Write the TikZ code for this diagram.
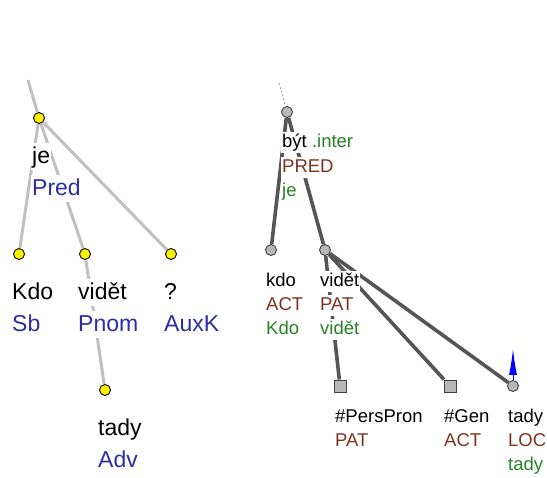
\documentclass[tikz,border=0pt]{standalone}
\usepackage{fontspec}
\setmainfont{Liberation Sans}
\usetikzlibrary{arrows.meta}
\definecolor{tblue}{RGB}{45,45,165}
\definecolor{tbrown}{RGB}{125,50,30}
\definecolor{tgreen}{RGB}{40,130,40}
\definecolor{ledgec}{RGB}{192,192,192}
\definecolor{redgec}{RGB}{85,85,85}
\begin{document}
\begin{tikzpicture}[x=1pt,y=-1pt,
 ynode/.style={circle,draw=black,fill=yellow,minimum size=11pt,inner sep=0pt,line width=0.9pt},
 gnode/.style={circle,draw=black!75,fill=black!28,minimum size=11pt,inner sep=0pt,line width=0.9pt},
 gsq/.style={rectangle,draw=black!75,fill=black!28,minimum size=12pt,inner sep=0pt,line width=0.9pt},
 lab/.style={anchor=base west,fill=white,inner xsep=1pt,inner ysep=0pt,text height=21pt,text depth=6pt,font=\fontsize{23}{23}\selectfont},
 rlab/.style={anchor=base west,fill=white,inner xsep=1pt,inner ysep=0pt,text height=16pt,text depth=5pt,font=\fontsize{18.5}{18.5}\selectfont},
 ledge/.style={draw=ledgec,line width=3pt},
 redge/.style={draw=redgec,line width=3.6pt},
]
\useasboundingbox (0,0) rectangle (547,478);
% ---------- left tree ----------
\coordinate (ltop) at (28,80);
\node[ynode] (je) at (39,118) {};
\node[ynode] (kdo) at (19,254) {};
\node[ynode] (vid) at (85,254) {};
\node[ynode] (q) at (171,254) {};
\node[ynode] (tady) at (105,390) {};
\draw[ledge] (ltop) -- (je);
\draw[ledge] (je) -- (kdo);
\draw[ledge] (je) -- (vid);
\draw[ledge] (je) -- (q);
\draw[ledge] (vid) -- (tady);
\node[lab] (jeA) at (31,164) {je};
\node[lab,text=tblue] (jeB) at (31,196) {Pred};
\node[lab] (kdoA) at (11,300) {Kdo};
\node[lab,text=tblue] (kdoB) at (11,332) {Sb};
\node[lab] (vidA) at (77,300) {vidět};
\node[lab,text=tblue] (vidB) at (77,332) {Pnom};
\node[lab] (qA) at (163,300) {?};
\node[lab,text=tblue] (qB) at (163,332) {AuxK};
\node[lab] (tadyA) at (97,436) {tady};
\node[lab,text=tblue] (tadyB) at (97,468) {Adv};
% ---------- right tree ----------
\coordinate (rtop) at (279,83);
\node[gnode] (byt) at (287,112) {};
\node[gnode] (rkdo) at (271,250) {};
\node[gnode] (rvid) at (325,250) {};
\node[gsq] (pp) at (340,386) {};
\node[gsq] (gen) at (450,386) {};
\node[gnode] (rtady) at (513,386) {};
\coordinate (coref) at (513,349);
\draw[black!50,line width=0.6pt,dash pattern=on 2pt off 2pt] (rtop) -- (byt);
\draw[redge] (byt) -- (rkdo);
\draw[redge] (byt) -- (rvid);
\draw[redge] (rvid) -- (pp);
\draw[redge] (rvid) -- (gen);
\draw[redge] (rvid) -- (rtady);
\draw[blue,line width=1pt,-{Latex[length=26pt,width=8pt]}] (rtady.north) -- (coref);
\node[rlab] (bytA) at (281,148) {být {\color{tgreen}.inter}};
\node[rlab,text=tbrown] (bytB) at (281,173) {PRED};
\node[rlab,text=tgreen] (bytC) at (281,197) {je};
\node[rlab] (rkdoA) at (265,287) {kdo};
\node[rlab,text=tbrown] (rkdoB) at (265,311) {ACT};
\node[rlab,text=tgreen] (rkdoC) at (265,335) {Kdo};
\node[rlab] (rvidA) at (319,287) {vidět};
\node[rlab,text=tbrown] (rvidB) at (319,311) {PAT};
\node[rlab,text=tgreen] (rvidC) at (319,335) {vidět};
\node[rlab] (ppA) at (334,423) {\#PersPron};
\node[rlab,text=tbrown] (ppB) at (334,447) {PAT};
\node[rlab] (genA) at (443,423) {\#Gen};
\node[rlab,text=tbrown] (genB) at (443,447) {ACT};
\node[rlab] (rtadyA) at (507,423) {tady};
\node[rlab,text=tbrown] (rtadyB) at (507,447) {LOC};
\node[rlab,text=tgreen] (rtadyC) at (507,471) {tady};
\end{tikzpicture}
\end{document}
